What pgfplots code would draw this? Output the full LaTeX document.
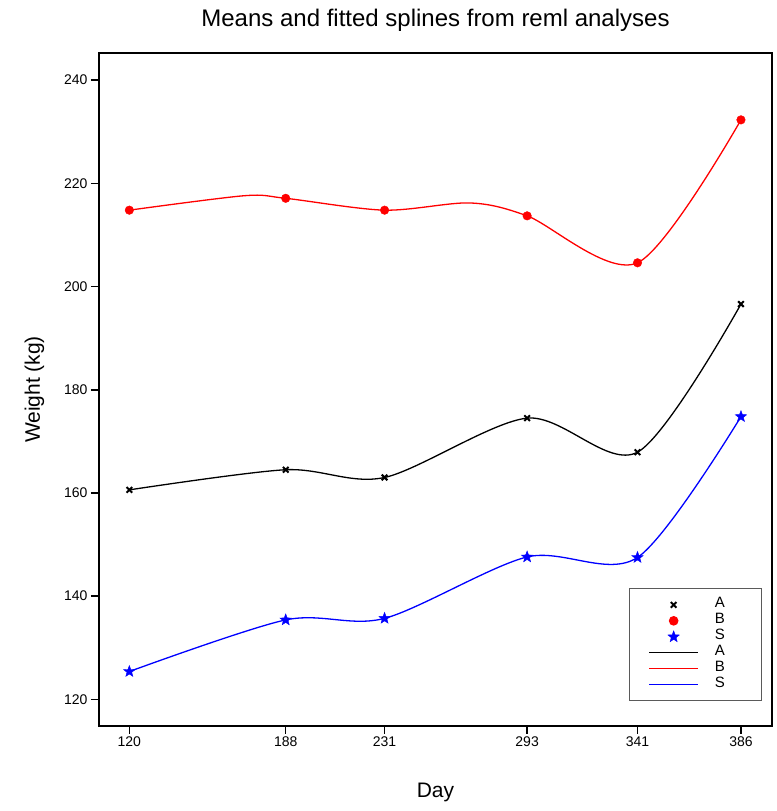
\documentclass[border=0pt]{standalone}
\usepackage{fontspec}
\setmainfont{Liberation Sans}
\usepackage{pgfplots}
\pgfplotsset{compat=1.18}
\pgfdeclareplotmark{fstar}{%
  \pgfpathmoveto{\pgfpointpolar{90}{\pgfplotmarksize}}%
  \pgfpathlineto{\pgfpointpolar{126}{0.42\pgfplotmarksize}}%
  \pgfpathlineto{\pgfpointpolar{162}{\pgfplotmarksize}}%
  \pgfpathlineto{\pgfpointpolar{198}{0.42\pgfplotmarksize}}%
  \pgfpathlineto{\pgfpointpolar{234}{\pgfplotmarksize}}%
  \pgfpathlineto{\pgfpointpolar{270}{0.42\pgfplotmarksize}}%
  \pgfpathlineto{\pgfpointpolar{306}{\pgfplotmarksize}}%
  \pgfpathlineto{\pgfpointpolar{342}{0.42\pgfplotmarksize}}%
  \pgfpathlineto{\pgfpointpolar{18}{\pgfplotmarksize}}%
  \pgfpathlineto{\pgfpointpolar{54}{0.42\pgfplotmarksize}}%
  \pgfpathclose
  \pgfusepathqfillstroke}
\begin{document}
\begin{tikzpicture}
\begin{axis}[
  scale only axis, width=673bp, height=672.4bp,
  xmin=106.8, xmax=399.5, ymin=114.9, ymax=245.2,
  xtick={120,188,231,293,341,386},
  xticklabels={120,188,231,293,341,386},
  ytick={120,140,160,180,200,220,240},
  yticklabels={120,140,160,180,200,220,240},
  tick align=outside, tick pos=left,
  major tick length=8bp,
  axis line style={line width=1.6bp},
  major tick style={line width=1.5bp, black},
  tick label style={font=\fontsize{14bp}{16bp}\selectfont},
  title={Means and fitted splines from reml analyses},
  title style={font=\fontsize{24bp}{28bp}\selectfont, at={(axis description cs:0.5,1.0312)}, anchor=base},
  xlabel={Day}, ylabel={Weight (kg)},
  every axis x label/.style={at={(axis description cs:0.5,-0.1071)}, anchor=base, font=\fontsize{21bp}{24bp}\selectfont},
  every axis y label/.style={at={(axis description cs:-0.0877,0.5)}, rotate=90, anchor=base, font=\fontsize{21bp}{24bp}\selectfont},
  legend style={at={(axis description cs:0.9856,0.2043)}, anchor=north east,
    draw={rgb,255:red,90;green,90;blue,90}, line width=1bp,
    font=\fontsize{15bp}{16bp}\selectfont,
    inner xsep=19bp, inner ysep=8bp, row sep=0pt,
    nodes={inner sep=0pt, text height=11bp, text depth=5bp, text width=28bp},
    /tikz/every odd column/.append style={column sep=16bp}},
  legend cell align=left,
  legend image code/.code={\draw[mark repeat=2,mark phase=2,#1] plot coordinates {(0bp,0bp) (24.5bp,0bp) (49bp,0bp)};},
]
% means
\addplot[only marks, black, mark=x, mark size=4bp, mark options={line width=2bp}] coordinates {
(120,160.6) (188,164.5) (231,163.0) (293,174.5) (341,167.9) (386,196.6)};
\addlegendentry{A}
\addplot[only marks, red, mark=*, mark size=4.3bp] coordinates {
(120,214.8) (188,217.1) (231,214.8) (293,213.7) (341,204.6) (386,232.3)};
\addlegendentry{B}
\addplot[only marks, blue, mark=fstar, mark size=6bp, mark options={fill=blue, line width=0.4bp}] coordinates {
(120,125.4) (188,135.4) (231,135.7) (293,147.6) (341,147.5) (386,174.8)};
\addlegendentry{S}
% fitted splines
\addplot[black, line width=1.3bp, smooth, no markers] coordinates {
(120,160.6) (188,164.5) (231,163.0) (293,174.5) (341,167.9) (386,196.6)};
\addlegendentry{A}
\addplot[red, line width=1.3bp, smooth, no markers] coordinates {
(120,214.8) (170,217.6) (188,217.1) (231,214.8) (268,216.2) (293,213.7) (341,204.6) (386,232.3)};
\addlegendentry{B}
\addplot[blue, line width=1.3bp, smooth, no markers] coordinates {
(120,125.4) (188,135.4) (231,135.7) (293,147.6) (341,147.5) (386,174.8)};
\addlegendentry{S}
\end{axis}
\path (current axis.south west) ++(-99bp,-85.3bp) coordinate (bl);
\path (current axis.north east) ++(5bp,53.3bp) coordinate (tr);
\path (bl) rectangle (tr);
\end{tikzpicture}
\end{document}
